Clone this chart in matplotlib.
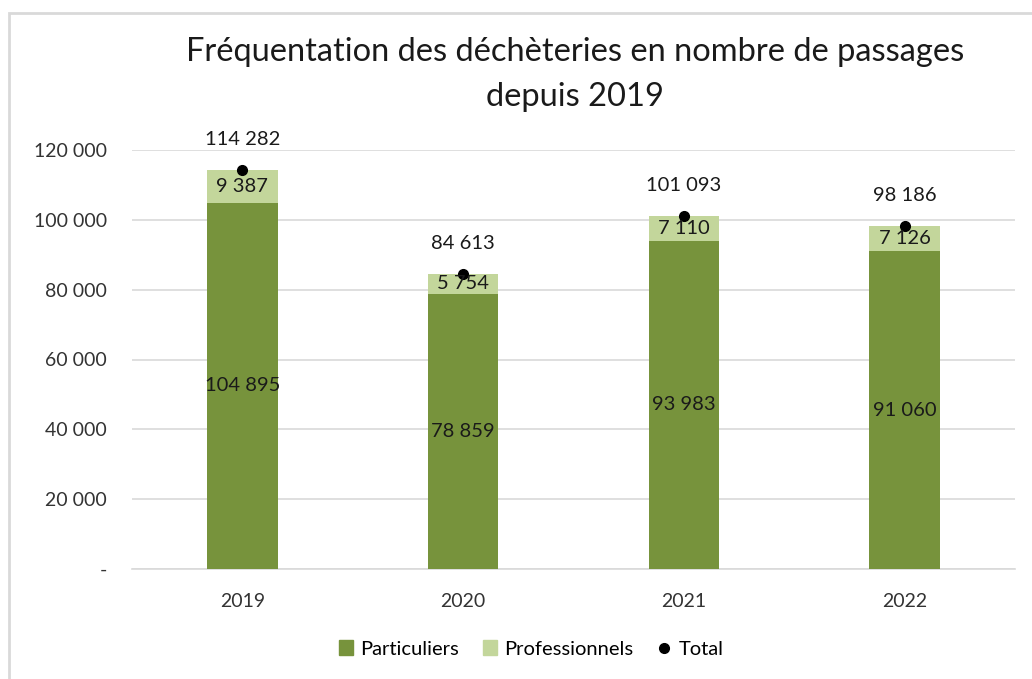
import matplotlib
matplotlib.use("Agg")
import matplotlib.pyplot as plt
from matplotlib.patches import Rectangle
from matplotlib.lines import Line2D
from matplotlib.ticker import FuncFormatter

years = ["2019", "2020", "2021", "2022"]
particuliers = [104895, 78859, 93983, 91060]
professionnels = [9387, 5754, 7110, 7126]
totals = [114282, 84613, 101093, 98186]

DARK = "#77933C"
LIGHT = "#C3D69B"
FONT = "Lato"

plt.rcParams["font.family"] = [FONT, "DejaVu Sans"]


def fr(v):
    return f"{int(round(v)):,}".replace(",", " ")


fig = plt.figure(figsize=(10.32, 6.79), dpi=100)
ax = fig.add_axes([132 / 1032, 1 - 569 / 679, (1015 - 132) / 1032, (569 - 150) / 679])

x = range(len(years))
ax.bar(x, particuliers, width=0.32, color=DARK, zorder=3, label="Particuliers")
ax.bar(x, professionnels, width=0.32, bottom=particuliers, color=LIGHT, zorder=3,
       label="Professionnels")
ax.plot(x, totals, "o", color="black", markersize=7, zorder=5, label="Total")

for i in x:
    ax.text(i, particuliers[i] / 2, fr(particuliers[i]), ha="center", va="center",
            fontsize=14.5, color="#1a1a1a", zorder=6)
    ax.text(i, particuliers[i] + professionnels[i] / 2, fr(professionnels[i]),
            ha="center", va="center", fontsize=14.5, color="#1a1a1a", zorder=6)
    ax.annotate(fr(totals[i]), (i, totals[i]), xytext=(0, 22), textcoords="offset points",
                ha="center", va="center", fontsize=14.5, color="#1a1a1a")

ax.set_xlim(-0.5, 3.5)
ax.set_ylim(0, 120000)
ax.set_yticks(range(0, 120001, 20000))
ax.yaxis.set_major_formatter(FuncFormatter(lambda v, p: "-" if v == 0 else fr(v)))
ax.set_xticks(list(x))
ax.set_xticklabels(years)
ax.tick_params(axis="both", length=0, labelsize=14, colors="#333333")
ax.tick_params(axis="y", pad=18)
ax.tick_params(axis="x", pad=17)
ax.grid(axis="y", color="#D9D9D9", linewidth=1.2, zorder=0)
for s in ["top", "right", "left"]:
    ax.spines[s].set_visible(False)
ax.spines["bottom"].set_color("#D9D9D9")
ax.spines["bottom"].set_linewidth(1.2)

fig.text(575 / 1032, 1 - 52 / 679, "Fréquentation des déchèteries en nombre de passages",
         ha="center", va="center", fontsize=23.5, color="#1a1a1a")
fig.text(575 / 1032, 1 - 97 / 679, "depuis 2019", ha="center", va="center",
         fontsize=23.5, color="#1a1a1a")

handles = [
    Rectangle((0, 0), 1, 1, color=DARK),
    Rectangle((0, 0), 1, 1, color=LIGHT),
    Line2D([], [], marker="o", color="black", linestyle="none", markersize=7),
]
fig.legend(handles, ["Particuliers", "Professionnels", "Total"], loc="center",
           bbox_to_anchor=(531 / 1032, 1 - 649 / 679), ncol=3, frameon=False,
           fontsize=14.5, handlelength=0.7, handleheight=0.7, handletextpad=0.35,
           columnspacing=1.2)

# light frame around the chart (runs off right/bottom edges)
fig.patches.append(Rectangle((9 / 1032, -0.05), 1.1, 1 - 13 / 679 + 0.05,
                             transform=fig.transFigure, fill=False,
                             edgecolor="#D9D9D9", linewidth=2))

fig.savefig("out.png", dpi=100, facecolor="white")
